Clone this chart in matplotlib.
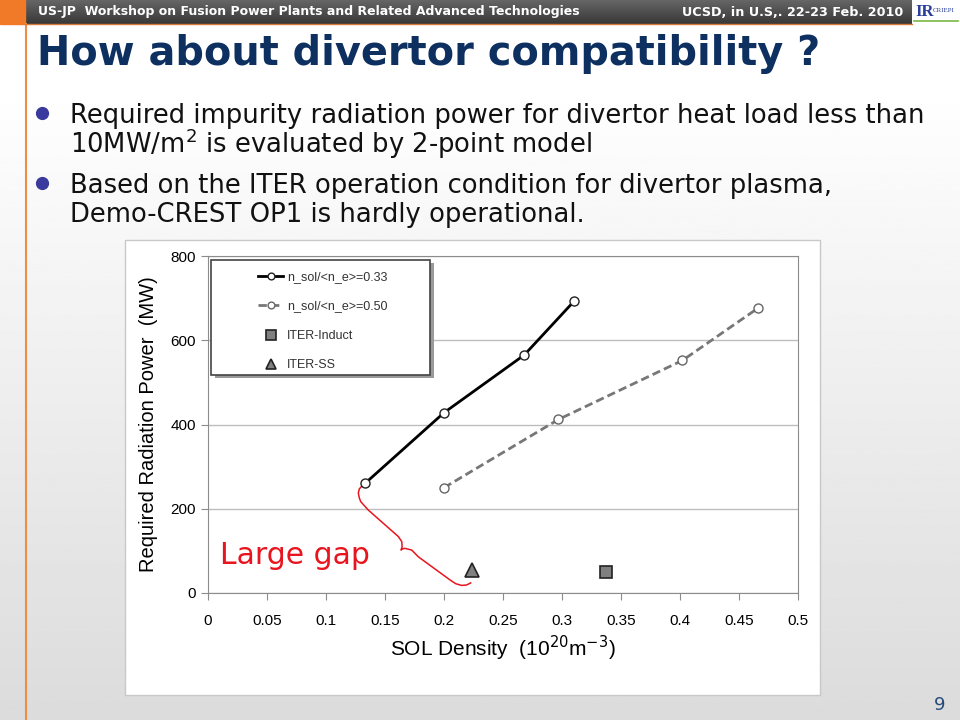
import numpy as np
import matplotlib
matplotlib.use("Agg")
import matplotlib.pyplot as plt
from matplotlib.patches import Rectangle

# data
dens_033 = [0.133, 0.200, 0.268, 0.310]
prad_033 = [260, 428, 565, 692]
dens_050 = [0.200, 0.297, 0.402, 0.466]
prad_050 = [250, 412, 552, 676]
iter_induct = (0.337, 50)
iter_ss = (0.224, 55)

# red brace from the first point down to ITER-SS
brace_x = [0.1311, 0.1282, 0.1274, 0.1282, 0.1294, 0.1358, 0.1613, 0.1642, 0.1645,
           0.1636, 0.1650, 0.1669, 0.1726, 0.1782, 0.2051, 0.2100, 0.2150, 0.2192, 0.2226]
brace_y = [256, 247, 237, 226, 217, 197, 134, 122, 110, 102, 105, 106, 102, 86, 31,
           22, 18, 19, 24]

xticks = [0, 0.05, 0.1, 0.15, 0.2, 0.25, 0.3, 0.35, 0.4, 0.45, 0.5]
xticklabels = ["0", "0.05", "0.1", "0.15", "0.2", "0.25", "0.3", "0.35", "0.4", "0.45", "0.5"]
yticks = [0, 200, 400, 600, 800]

title = "How about divertor compatibility ?"
header_left = "US-JP  Workshop on Fusion Power Plants and Related Advanced Technologies"
header_right = "UCSD, in U.S,. 22-23 Feb. 2010"
bullets = [
    ["Required impurity radiation power for divertor heat load less than",
     "10MW/m$^{2}$ is evaluated by 2-point model"],
    ["Based on the ITER operation condition for divertor plasma,",
     "Demo-CREST OP1 is hardly operational."],
]

fig = plt.figure(figsize=(9.6, 7.2), dpi=100)

# slide background in pixel coords
bg = fig.add_axes([0, 0, 1, 1], zorder=-10)
bg.set_xlim(0, 960)
bg.set_ylim(720, 0)
bg.axis("off")
grad = np.concatenate([np.ones(30), np.linspace(1.0, 0.86, 226)]).reshape(-1, 1)
bg.imshow(grad, cmap="gray", vmin=0, vmax=1, extent=[0, 960, 720, 0], aspect="auto")

# header bar
hgrad = np.linspace(0.40, 0.22, 64).reshape(-1, 1)
bg.imshow(hgrad, cmap="gray", vmin=0, vmax=1, extent=[25, 912, 24, 0], aspect="auto")
bg.add_patch(Rectangle((0, 0), 25, 24, color="#f07a28"))
bg.plot([25.5, 25.5], [24, 720], color="#f08c4a", lw=1.5)
bg.plot([25, 912], [23.5, 23.5], color="#d97a3a", lw=1)
bg.add_patch(Rectangle((913, 0), 47, 24, color="white"))
bg.text(915, 12, "IR", color="#2a3f9a", fontsize=12, fontweight="bold",
        family="Liberation Serif", va="center")
bg.text(933, 10, "CRIEPI", color="#2a3f9a", fontsize=5, family="Liberation Serif", va="center")
bg.plot([914, 958], [21, 21], color="#7ab648", lw=1.2)
bg.text(38, 12, header_left, color="white", fontsize=9.0, fontweight="bold",
        family="DejaVu Sans", va="center")
bg.text(903, 12, header_right, color="white", fontsize=9.2, fontweight="bold",
        family="DejaVu Sans", va="center", ha="right")

bg.text(37, 65, title, color="#0d3060", fontsize=28.7, fontweight="bold",
        family="DejaVu Sans", va="baseline")

ys = [[123, 153], [193, 222]]
for lines, yy in zip(bullets, ys):
    bg.plot(42, yy[0] - 10, "o", color="#3a3a9e", ms=8.5)
    for line, y in zip(lines, yy):
        bg.text(70, y, line, color="#111111", fontsize=18.6, family="DejaVu Sans", va="baseline")

bg.text(940, 705, "9", color="#274a7a", fontsize=13, ha="center", va="center")

# chart panel
bg.add_patch(Rectangle((125, 240), 695, 455, facecolor="white", edgecolor="#c8c8c8", lw=1))

ax = fig.add_axes([208 / 960, 1 - 593 / 720, 590 / 960, 337 / 720])
ax.plot(dens_033, prad_033, "-o", color="black", lw=2, ms=6.5, mfc="white", mec="#222222",
        mew=1, label="n_sol/<n_e>=0.33", zorder=3)
ax.plot(dens_050, prad_050, "--o", color="#777777", lw=2, ms=6.5, mfc="white", mec="#666666",
        mew=1, dashes=(3, 1.5), label="n_sol/<n_e>=0.50", zorder=3)
ax.plot(*iter_induct, "s", color="#808080", ms=9, mec="#222222", mew=1.2,
        label="ITER-Induct", zorder=3)
ax.plot(*iter_ss, "^", color="#808080", ms=10, mec="#222222", mew=1.2,
        label="ITER-SS", zorder=3)

ax.plot(brace_x, brace_y, color="#e8141e", lw=1.1, zorder=2, solid_joinstyle="round")
ax.text(0.010, 90, "Large gap", color="#e8141e", fontsize=21.5, family="DejaVu Sans", va="center")

ax.set_xlim(0, 0.5)
ax.set_ylim(0, 800)
ax.set_xticks(xticks)
ax.set_xticklabels(xticklabels)
ax.set_yticks(yticks)
ax.grid(axis="y", color="#bdbdbd", lw=1)
ax.set_axisbelow(True)
for s in ax.spines.values():
    s.set_color("#8c8c8c")
ax.tick_params(colors="#8c8c8c", labelcolor="black", labelsize=11, length=5)
for t in ax.get_xticklabels() + ax.get_yticklabels():
    t.set_family("Liberation Sans")
ax.tick_params(axis="x", pad=10)
ax.set_xlabel("SOL Density  (10$^{20}$m$^{-3}$)", fontsize=15, family="Liberation Sans", labelpad=4)
ax.set_ylabel("Required Radiation Power  (MW)", fontsize=14.5, family="Liberation Sans", labelpad=9)

# legend box drawn by hand, entries placed inside it
lx0, lx1 = (211 - 208) / 590, (430 - 208) / 590
ly0, ly1 = (593 - 375) / 337, (593 - 260) / 337
ax.add_patch(Rectangle((lx0 + 0.006, ly0 - 0.01), lx1 - lx0, ly1 - ly0, transform=ax.transAxes,
                       facecolor="#9a9a9a", edgecolor="none", zorder=4))
ax.add_patch(Rectangle((lx0, ly0), lx1 - lx0, ly1 - ly0, transform=ax.transAxes,
                       facecolor="white", edgecolor="#444444", lw=1.2, zorder=5))
leg = ax.legend(loc="upper left", bbox_to_anchor=((258 - 208) / 590, (593 - 271) / 337),
                frameon=False, labelspacing=1.4, handlelength=2.0, handletextpad=0.3,
                borderpad=0, borderaxespad=0, markerscale=0.75,
                prop={"family": "Liberation Sans", "size": 9})
for txt in leg.get_texts():
    txt.set_color("#333333")
leg.set_zorder(6)

fig.savefig("out.png", dpi=100)
